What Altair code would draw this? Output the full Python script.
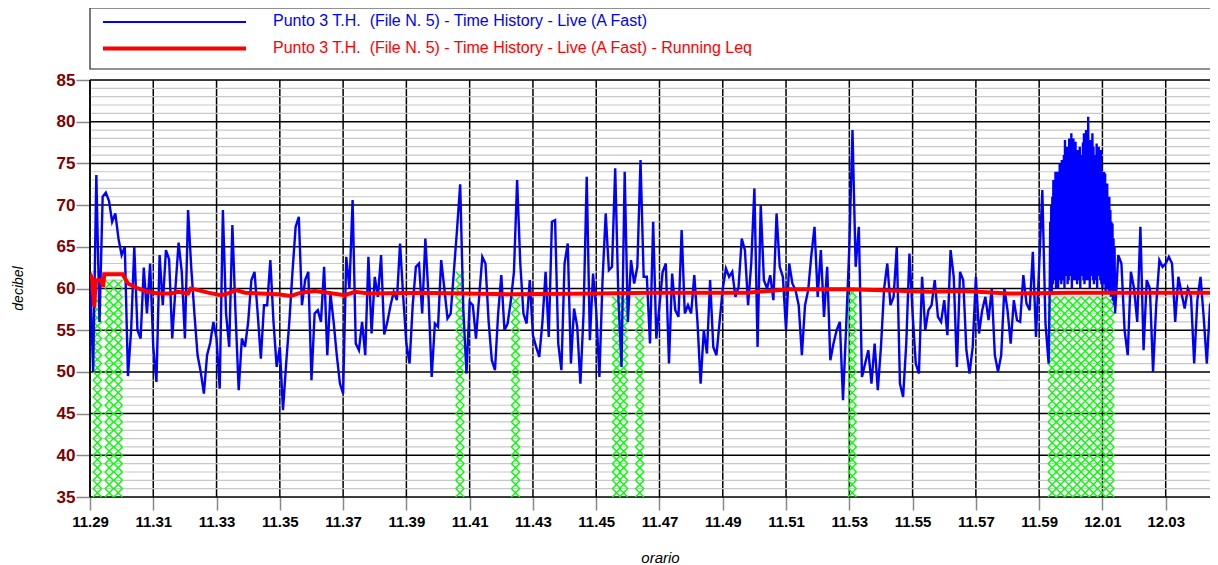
import altair as alt
import pandas as pd

# ---------------- data ----------------
START_H, START_M = 11, 29          # time axis starts at 11:29:00
T_END = 2124                       # seconds shown on the x axis

series_names = [
    "Punto 3 T.H.\u00a0 (File N. 5) - Time History - Live (A Fast)",
    "Punto 3 T.H.\u00a0 (File N. 5) - Time History - Live (A Fast) - Running Leq",
]

# Live (A Fast) levels, dB, sampled every 6 s from 11:29:00
STEP_MAIN = 6
level_main = [
    62, 50, 73.6, 56, 71, 71.5, 70.5, 68, 69, 66, 64, 65, 49.5, 55, 65, 55, 54, 62.5, 57, 63,
    53, 48.8, 64, 58, 64.6, 63.5, 54, 60, 65.5, 62, 54, 69.4, 62.5, 57, 52, 50, 47.4, 52, 53.5, 56,
    54, 48, 69.4, 57, 53,
    67.6, 57, 47.8, 54, 53, 56, 61, 62, 57, 51.6, 58, 58, 63.4, 56, 50.6, 53, 45.4, 51, 56, 62,
    67.4, 68.6, 58, 61, 62, 49, 57, 57.4, 56, 62.6, 52, 59.4, 56, 52, 48.6, 47.4, 63.8, 60, 70.6, 53.4,
    52.6, 56, 52, 63.8,
    54.6, 61.4, 59, 64, 54.5, 56, 58, 59.6, 58.6, 65.4, 59, 53.4, 51, 58, 62.6, 63, 57, 66, 59, 49.4,
    55.8, 55.4, 63.4, 60, 56.4, 57, 62, 67, 72.5, 57.4, 49.8, 58.4, 58, 54, 59, 63.8, 63, 56, 51.4, 50.2,
    57, 61.6, 55, 55.8,
    58.5, 62, 73, 63, 57, 55.8, 61, 54.4, 53, 51.8, 56, 62, 54.2, 68, 68.2, 53.4, 50.2, 63, 65.4, 51,
    57.6, 55.4, 48.6, 57, 73.4, 53.8, 61.8, 57.4, 49.4, 61, 69, 62.2, 62.6, 74.4, 59, 50.6, 74, 56, 63.4, 60.6,
    62.6, 75.4, 61.4, 61.4, 53.4,
    68, 54, 58, 62, 63, 51, 61.8, 57.4, 56.6, 67, 57, 58, 57, 61.6, 56, 48.6, 55, 52.2, 61, 53,
    52, 56, 60, 62.4, 61.4, 62, 59, 60.2, 66, 64.6, 58, 63, 72, 53, 70, 61, 60, 61.6, 58.6, 69,
    62.6, 61.4, 55, 63,
    60.6, 59.8, 58, 52, 58, 59.8, 64, 67.4, 59, 64.6, 56.6, 62.6, 51.4, 53.4, 55, 56, 46.6, 55.4, 65, 79,
    62.6, 67.4, 49.4, 51, 52.6, 48.6, 53.4, 47.8, 53, 60, 63, 58, 59, 65, 48.6, 47, 53.4, 64.2, 57, 51,
    49.8, 61.4, 55, 57.4,
    58, 61, 56.6, 56, 58.6, 54.4, 64.6, 61.4, 50.6, 62, 61, 52.6, 49.8, 53, 61.4, 54.6, 57.4, 59, 56.2, 60,
    52, 50, 52, 60, 57.4, 53.4, 58.6, 56.2, 56, 61.6, 58.2, 57.4, 64.4, 54.2, 62.6, 71.8, 55.8, 51,
]
# dense burst around 12.00, one value per second, alternating trough / peak
STEP_BURST = 1
burst_low = [
    60, 61, 59.5, 60.5, 62, 61, 60, 61.5, 60, 62, 61, 60.5, 62, 61, 60, 61.5, 62, 60.5, 61, 62,
    61.5, 60, 62, 61, 62.5, 61, 60.5, 62, 61, 60, 61.5, 62, 61, 60.5, 62, 61, 62.5, 61, 60, 61.5,
    62, 61, 60.5, 62, 61, 60, 61.5, 62, 61, 60.5, 60, 61, 60.5, 59.5, 60, 61, 59.5, 60, 59, 60,
    58.5, 58, 57,
]
burst_high = [
    68, 70, 71, 73, 72, 74, 73.5, 74, 73, 75, 74.5, 75.4, 74, 76, 77.8, 76, 77, 75.5, 78, 77,
    78.6, 77.5, 78, 76.5, 77.6, 76, 76.6, 75, 77, 76, 75, 77.5, 78.6, 77, 79, 78, 80.6, 77, 77.8, 76,
    78.6, 77, 76, 75, 77.4, 76, 77, 75.5, 76.6, 74, 73, 74, 73.8, 72, 72.6, 71, 71, 69.4, 68, 67.8,
    66, 65,
]
# after the burst, every 6 s
STEP_TAIL = 6
level_tail = [
    64, 63, 55, 52, 62, 60, 56, 67.4, 52.6, 61, 60, 50, 58, 63.4, 62.6, 63, 63.8, 63, 56, 61.4,
    59.4, 57.6, 60, 59, 51, 58.6, 61.4, 56.6, 51, 58, 59, 65,
]

# Running Leq (seconds from 11:29:00, dB)
leq_time = [0, 4, 8, 11, 21, 25, 27, 62, 72, 91, 110, 129, 153, 167, 186, 191, 205, 224, 248, 261,
            277, 294, 356, 381, 400, 426, 451, 483, 502, 530, 625, 796, 966, 1061, 1247, 1326, 1440,
            1592, 1658, 1743, 1857, 2136]
leq_db = [61.8, 61.2, 57.8, 61, 61, 60.2, 61.7, 61.7, 60.6, 60.0, 59.6, 59.4, 59.4, 59.6, 59.4, 60.0,
          59.8, 59.5, 59.2, 59.4, 59.8, 59.5, 59.3, 59.1, 59.5, 59.7, 59.5, 59.2, 59.6, 59.4, 59.5,
          59.3, 59.4, 59.5, 59.5, 59.9, 59.9, 59.6, 59.7, 59.4, 59.5, 59.5]

# masked (hatched) intervals: start s, end s, top dB
event_start = [8, 28, 694, 804, 992, 1007, 1032, 1438, 1817]
event_end = [20, 62, 709, 810, 1005, 1017, 1053, 1453, 1942]
event_top = [59, 61.5, 62, 59.2, 59.4, 59.4, 59.4, 60.5, 59.5]

y_major = list(range(35, 86, 5))
y_minor = [v for v in range(35, 86) if v % 5]
x_ticks = list(range(0, 2041, 120))

# ---------------- tables ----------------
level_burst = []
for i, lo in enumerate(burst_low):
    level_burst.append(lo)
    if i < len(burst_high):
        level_burst.append(burst_high[i])

t, v = [], []
for i, val in enumerate(level_main):
    t.append(i * STEP_MAIN); v.append(val)
t0 = t[-1] + 2
for i, val in enumerate(level_burst):
    t.append(t0 + i * STEP_BURST); v.append(val)
t1 = t[-1] + STEP_TAIL
for i, val in enumerate(level_tail):
    t.append(t1 + i * STEP_TAIL); v.append(val)
live_df = pd.DataFrame({"t": t, "db": v})
leq_df = pd.DataFrame({"t": leq_time, "db": leq_db})

HATCH_DX = 16
hx, hy = [], []
for s, e, top in zip(event_start, event_end, event_top):
    w = e - s
    n = max(1, round(w / HATCH_DX))
    for i in range(n):
        cx = s + w * (i + 0.5) / n
        c = 35.5
        while c + 0.5 <= top + 1e-6:
            hx.append(cx); hy.append(c); c += 1
hatch_df = pd.DataFrame({"t": hx, "db": hy})

xscale = alt.Scale(domain=[0, T_END], nice=False, zero=False)
yscale = alt.Scale(domain=[35, 85], nice=False, zero=False)
FONT = "Liberation Sans"
base_sec = START_H * 3600 + START_M * 60

x_axis = alt.Axis(
    values=x_ticks, grid=False, domain=False, labelFlush=False, labelOverlap=False,
    labelExpr=f"floor(({base_sec} + datum.value) / 3600) + '.' + format(floor(({base_sec} + datum.value) / 60) % 60, '02d')",
    labelFont=FONT, labelFontSize=15, labelFontWeight="bold", labelColor="black", labelPadding=4,
    tickColor="#888888", tickSize=13, tickWidth=1.5,
    title="orario", titleFont=FONT, titleFontSize=15, titleFontStyle="italic", titleFontWeight="normal",
    titleColor="black", titleX=570, titleY=60, titleBaseline="middle", titleAlign="center",
)
y_axis = alt.Axis(
    values=y_major, grid=False, domain=False,
    labelFont=FONT, labelFontSize=17, labelFontWeight="bold", labelColor="#800000", labelPadding=1,
    tickColor="#888888", tickSize=14, tickWidth=1.5,
    title="decibel", titleFont=FONT, titleFontSize=14, titleFontStyle="italic", titleFontWeight="normal",
    titleColor="black", titleX=-72, titleY=208, titleAngle=270, titleBaseline="middle", titleAlign="center",
)


def X(field="t"):
    return alt.X(f"{field}:Q", scale=xscale, axis=x_axis)


def Y(field="db"):
    return alt.Y(f"{field}:Q", scale=yscale, axis=y_axis)


vgrid = alt.Chart(pd.DataFrame({"t": x_ticks})).mark_rule(color="black", strokeWidth=1.5).encode(x=X())
hminor = alt.Chart(pd.DataFrame({"db": y_minor})).mark_rule(color="#c8c8c8", strokeWidth=1.2).encode(y=Y())
hmajor = alt.Chart(pd.DataFrame({"db": y_major})).mark_rule(color="black", strokeWidth=1.5).encode(y=Y())
left_edge = alt.Chart(pd.DataFrame({"t": [0]})).mark_rule(color="black", strokeWidth=1.5).encode(x=X())

hatch = alt.Chart(hatch_df).mark_point(
    shape="M-1,-1L1,1M-1,1L1,-1", filled=False, size=71, strokeWidth=1.4,
    color="#00ff00", opacity=1,
).encode(x=X(), y=Y())

live = alt.Chart(live_df).mark_line(color="#0000ff", strokeWidth=2.4, clip=True).encode(x=X(), y=Y())
leq = alt.Chart(leq_df).mark_line(color="#ff0000", strokeWidth=4, clip=True).encode(x=X(), y=Y())

one = pd.DataFrame({"a": [0]})
legend_box = alt.Chart(one).mark_rect(fill="white", stroke="#222222", strokeWidth=1.2).encode(
    x=alt.value(0), x2=alt.value(1160), y=alt.value(-72), y2=alt.value(-11))
leg_line1 = alt.Chart(one).mark_rule(color="#0000ff", strokeWidth=2).encode(
    x=alt.value(13), x2=alt.value(156), y=alt.value(-58))
leg_line2 = alt.Chart(one).mark_rule(color="#ff0000", strokeWidth=4).encode(
    x=alt.value(13), x2=alt.value(156), y=alt.value(-31.5))
leg_text1 = alt.Chart(one).mark_text(align="left", baseline="alphabetic", font=FONT, fontSize=16,
                                     color="#0000ff").encode(
    x=alt.value(183), y=alt.value(-54), text=alt.value(series_names[0]))
leg_text2 = alt.Chart(one).mark_text(align="left", baseline="alphabetic", font=FONT, fontSize=16,
                                     color="#ff0000").encode(
    x=alt.value(183), y=alt.value(-27.5), text=alt.value(series_names[1]))

chart = alt.layer(
    vgrid, hminor, hmajor, left_edge, hatch, live, leq,
    legend_box, leg_line1, leg_line2, leg_text1, leg_text2,
).properties(
    width=1120, height=417,
    padding={"left": 82, "top": 72, "right": 0, "bottom": 68},
    autosize=alt.AutoSizeParams(type="none"),
    background="white",
).configure_view(stroke=None).configure(font=FONT)

chart.save("out.html", embed_options={"renderer": "svg", "actions": False})
